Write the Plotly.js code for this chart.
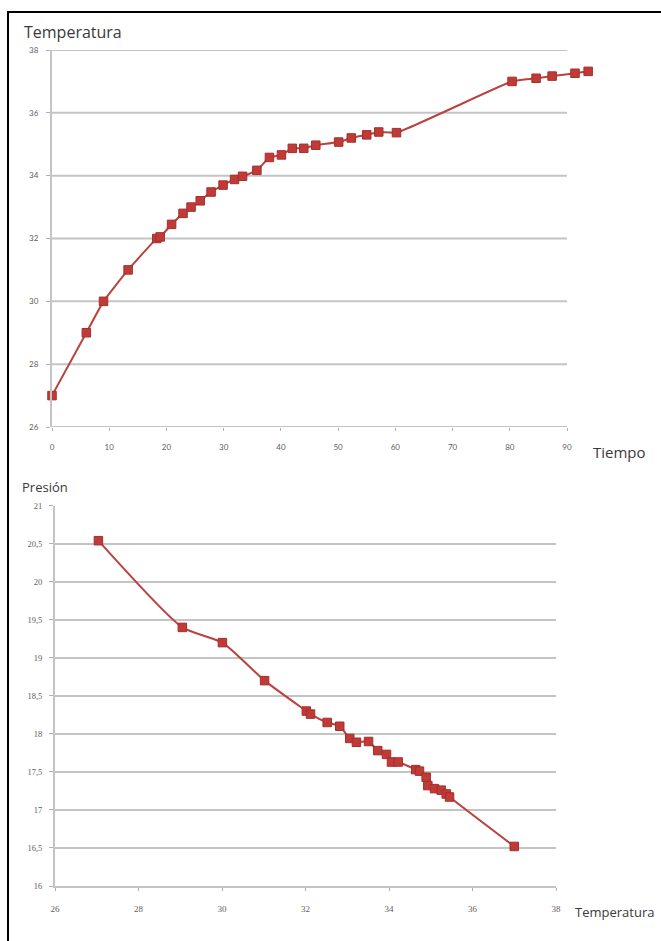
<!DOCTYPE html>
<html>
<head>
<meta charset="utf-8">
<script src="https://cdn.plot.ly/plotly-3.0.1.min.js"></script>
<style>
html,body{margin:0;padding:0;background:#fff;}
#wrap{position:relative;width:661px;height:941px;overflow:hidden;}
#chart{position:absolute;left:0;top:0;width:661px;height:941px;}
#frame{position:absolute;left:7px;top:11px;width:700px;height:1000px;border-left:2px solid #000;border-top:2px solid #000;pointer-events:none;}
</style>
</head>
<body>
<div id="wrap"><div id="chart"></div><div id="frame"></div></div>
<script>
// Top chart: Temperatura vs Tiempo
const tiempo = [0, 6, 9, 13.3, 18.3, 18.9, 20.9, 22.9, 24.3, 25.9, 27.8, 29.9, 31.9, 33.3, 35.8, 38.0, 40.1, 42.0, 44.0, 46.1, 50.1, 52.3, 55.0, 57.1, 60.2, 80.4, 84.6, 87.4, 91.4, 93.7];
const temperatura = [27, 29, 30, 31, 32, 32.05, 32.45, 32.8, 33, 33.2, 33.48, 33.7, 33.88, 33.98, 34.17, 34.58, 34.66, 34.87, 34.87, 34.97, 35.07, 35.2, 35.3, 35.39, 35.37, 37.0, 37.1, 37.17, 37.26, 37.32];
const tiempoTicks = [0, 10, 20, 30, 40, 50, 60, 70, 80, 90];
const tempTicks = [26, 28, 30, 32, 34, 36, 38];

// Bottom chart: Presión vs Temperatura
const temperaturaB = [27.04, 29.05, 30.01, 31.02, 32.02, 32.12, 32.52, 32.82, 33.06, 33.22, 33.51, 33.73, 33.94, 34.06, 34.22, 34.64, 34.73, 34.89, 34.93, 35.09, 35.25, 35.37, 35.45, 37.0];
const presion = [20.54, 19.40, 19.2, 18.70, 18.30, 18.26, 18.15, 18.10, 17.94, 17.89, 17.90, 17.78, 17.73, 17.63, 17.63, 17.53, 17.51, 17.43, 17.32, 17.28, 17.26, 17.21, 17.17, 16.52];
const tempTicksB = [26, 28, 30, 32, 34, 36, 38];
const presTicks = [16, 16.5, 17, 17.5, 18, 18.5, 19, 19.5, 20, 20.5, 21];

const W = 661, H = 941;
const lineColor = '#b8433f';
const markColor = '#c23a37';
const gridColor = '#c4c4c4';
const tickFont = {family: 'Lato, "DejaVu Sans", sans-serif', size: 8, color: '#5e5e5e'};

// top axis pixel layout
const topX0 = 52, topX90 = 567, topXmax = 96;
const pxPerUnit = (topX90 - topX0) / 90;
const topXend = topX0 + pxPerUnit * topXmax;

const traces = [
  {x: tiempo, y: temperatura, xaxis: 'x', yaxis: 'y', type: 'scatter', mode: 'lines+markers',
   line: {color: lineColor, width: 2, shape: 'spline', smoothing: 0.4},
   marker: {symbol: 'square', size: 8.5, color: markColor, line: {color: '#a0302d', width: 1}},
   cliponaxis: false, showlegend: false, hoverinfo: 'skip'},
  {x: temperaturaB, y: presion, xaxis: 'x2', yaxis: 'y2', type: 'scatter', mode: 'lines+markers',
   line: {color: lineColor, width: 2, shape: 'spline', smoothing: 0.6},
   marker: {symbol: 'square', size: 8.5, color: markColor, line: {color: '#a0302d', width: 1}},
   cliponaxis: false, showlegend: false, hoverinfo: 'skip'}
];

const shapes = [];
tempTicks.forEach(v => shapes.push({type: 'line', xref: 'x', yref: 'y', x0: 0, x1: 90, y0: v, y1: v,
  line: {color: gridColor, width: 2}, layer: 'below'}));

const layout = {
  width: W, height: H,
  margin: {l: 0, r: 0, t: 0, b: 0},
  paper_bgcolor: '#fff', plot_bgcolor: 'rgba(0,0,0,0)',
  separators: ',.',
  font: {family: 'Lato, "DejaVu Sans", sans-serif'},
  xaxis: {domain: [topX0 / W, topXend / W], range: [0, topXmax], tickvals: tiempoTicks,
    showgrid: false, zeroline: false, showline: false, ticks: 'outside', ticklen: 3, tickwidth: 1,
    tickcolor: '#b0b0b0', tickfont: tickFont, ticklabelstandoff: 9, anchor: 'y', fixedrange: true},
  yaxis: {domain: [1 - 427 / H, 1 - 50 / H], range: [26, 38], tickvals: tempTicks,
    showgrid: false, zeroline: false, showline: true, linecolor: gridColor, linewidth: 2,
    ticks: 'outside', ticklen: 4, tickcolor: '#b0b0b0', tickfont: tickFont, ticklabelstandoff: 6, anchor: 'x', fixedrange: true},
  xaxis2: {domain: [55 / W, 556 / W], range: [26, 38], tickvals: tempTicksB,
    showgrid: false, zeroline: false, showline: true, linecolor: gridColor, linewidth: 2,
    ticks: 'outside', ticklen: 3, tickcolor: '#b0b0b0', tickfont: {family: '"Liberation Serif", serif', size: 9, color: '#5e5e5e'},
    ticklabelstandoff: 10, anchor: 'y2', fixedrange: true},
  yaxis2: {domain: [1 - 886 / H, 1 - 505.7 / H], range: [16, 21], tickvals: presTicks,
    showgrid: true, gridcolor: gridColor, gridwidth: 2, zeroline: false, showline: true, linecolor: gridColor, linewidth: 2,
    ticks: 'outside', ticklen: 4, tickcolor: '#b0b0b0', tickfont: {family: '"Liberation Serif", serif', size: 8.5, color: '#5e5e5e'},
    ticklabelstandoff: 5, anchor: 'x2', fixedrange: true},
  shapes: shapes,
  annotations: [
    {text: 'Temperatura', xref: 'paper', yref: 'paper', x: 22 / W, y: 1 - 32 / H, xanchor: 'left', yanchor: 'middle',
      showarrow: false, font: {family: '"Open Sans", sans-serif', size: 16, color: '#3a3a3a'}},
    {text: 'Tiempo', xref: 'paper', yref: 'paper', x: 591 / W, y: 1 - 452 / H, xanchor: 'left', yanchor: 'middle',
      showarrow: false, font: {family: '"Open Sans", sans-serif', size: 15, color: '#3a3a3a'}},
    {text: 'Presión', xref: 'paper', yref: 'paper', x: 20 / W, y: 1 - 487 / H, xanchor: 'left', yanchor: 'middle',
      showarrow: false, font: {family: '"Open Sans", sans-serif', size: 13, color: '#3a3a3a'}},
    {text: 'Temperatura', xref: 'paper', yref: 'paper', x: 573 / W, y: 1 - 912 / H, xanchor: 'left', yanchor: 'middle',
      showarrow: false, font: {family: '"Open Sans", sans-serif', size: 13, color: '#3a3a3a'}}
  ]
};

Plotly.newPlot('chart', traces, layout, {staticPlot: true, displayModeBar: false});
</script>
</body>
</html>
